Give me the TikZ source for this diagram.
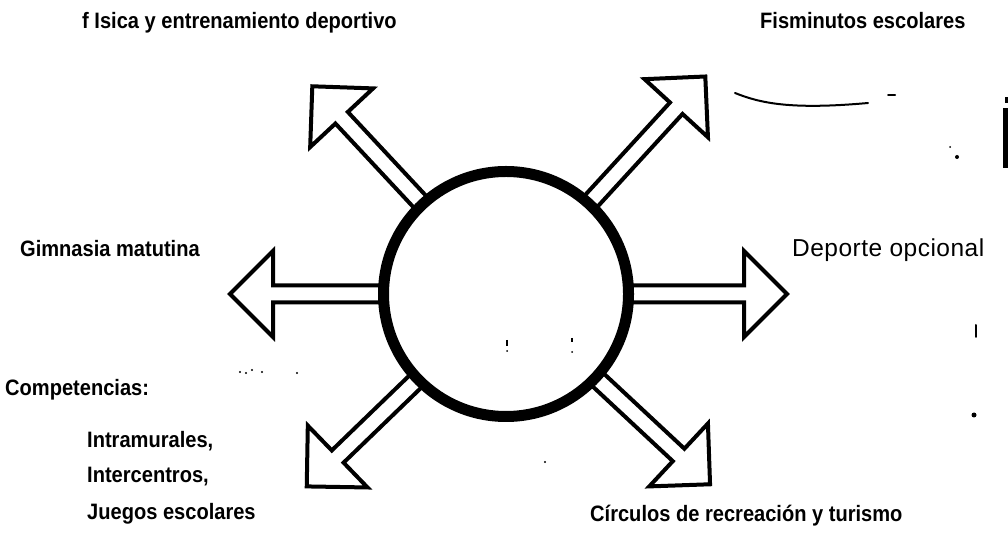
\documentclass[tikz,border=0pt]{standalone}
\usepackage{fontspec}
\newfontfamily\labfont[FakeStretch=0.9]{Liberation Sans}
\newfontfamily\plainfont[LetterSpace=2]{Liberation Sans}
\begin{document}
\begin{tikzpicture}[x=1pt,y=1pt,
  arrowst/.style={line width=4pt, line join=miter, fill=white, draw=black},
  lab/.style={anchor=base west, inner sep=0pt, font=\labfont\bfseries\fontsize{22.3}{26}\selectfont},
  plainlab/.style={anchor=base west, inner sep=0pt, font=\plainfont\fontsize{24.5}{28}\selectfont},
  noise/.style={line width=2pt, line cap=round}]
\useasboundingbox (0,0) rectangle (1008,548);
\coordinate (C) at (506,254);
\newcommand\blockarrow[2]{%
  \begin{scope}[shift={(C)}, rotate=#1]
    \filldraw[arrowst] (115,8.5) -- (#2,8.5) -- (#2,43) -- ({#2+43},0) -- (#2,-43) -- (#2,-8.5) -- (115,-8.5);
  \end{scope}}
\blockarrow{180}{233}
\blockarrow{0}{238}
\blockarrow{133}{241}
\blockarrow{47.5}{252}
\blockarrow{224}{234}
\blockarrow{-43}{236}
\node[circle, draw=black, line width=11pt, fill=white, minimum size=245pt, inner sep=0pt] (hub) at (C) {};
% labels
\node[lab] (l1) at (82,519) {f Isica y entrenamiento deportivo};
\node[lab] (l2) at (760,519) {Fisminutos escolares};
\node[lab] (l3) at (20,291) {Gimnasia matutina};
\node[plainlab] (l4) at (792,291) {Deporte opcional};
\node[lab] (l5) at (5,152) {Competencias:};
\node[lab] (l6) at (87,100) {Intramurales,};
\node[lab] (l7) at (87,65) {Intercentros,};
\node[lab] (l8) at (87,28) {Juegos escolares};
\node[lab] (l9) at (590,26) {Círculos de recreación y turismo};
% scan marks
\draw[noise] (735,455) .. controls (760,445) and (790,438) .. (868,445);
\draw[noise] (888,453) -- (895,453);
\fill (1003,440) rectangle (1008,380);
\fill (1005,451) rectangle (1008,445);
\fill (957,391) circle (2);
\fill (950,401) circle (1);
\draw[noise] (976,223) -- (976,211);
\fill (974,133) circle (2.5);
\draw[line width=1.5pt] (507,208) -- (507,202);
\fill (507,197) circle (1);
\draw[line width=1.5pt] (572,210) -- (572,206);
\fill (572,196) circle (1);
\fill (240,176) circle (1.2);
\fill (246,175) circle (1.2);
\fill (252,178) circle (1.2);
\fill (262,176) circle (1.2);
\fill (297,175) circle (1.2);
\fill (545,86) circle (1.2);
\end{tikzpicture}
\end{document}
